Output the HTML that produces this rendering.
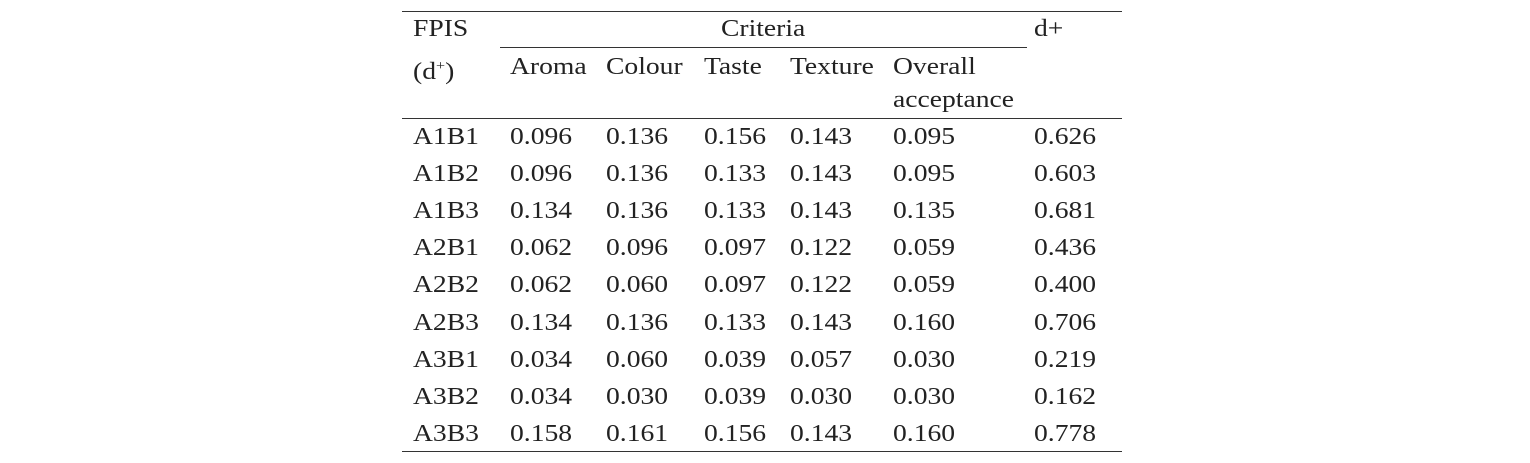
<!DOCTYPE html>
<html><head><meta charset="utf-8"><style>
body{margin:0;width:1530px;height:463px;background:#fff;position:relative;overflow:hidden;font-family:"Liberation Serif",serif;color:#222}
.t{position:absolute;font-size:24px;line-height:24px;white-space:nowrap;transform:scaleX(1.15);transform-origin:left center}
.l{position:absolute;height:1px;background:#333}
</style></head><body>
<div class="l" style="left:402px;width:720px;top:11px"></div>
<div class="l" style="left:500px;width:527px;top:47px"></div>
<div class="l" style="left:402px;width:720px;top:118px"></div>
<div class="l" style="left:402px;width:720px;top:451px"></div>
<div class="t" style="left:413px;top:17px">FPIS</div>
<div class="t" style="left:413px;top:55px">(d<sup style="font-size:14px">+</sup>)</div>
<div class="t" style="left:721px;top:17px">Criteria</div>
<div class="t" style="left:1034px;top:17px">d+</div>
<div class="t" style="left:510px;top:55px">Aroma</div>
<div class="t" style="left:606px;top:55px">Colour</div>
<div class="t" style="left:704px;top:55px">Taste</div>
<div class="t" style="left:790px;top:55px">Texture</div>
<div class="t" style="left:893px;top:55px">Overall</div>
<div class="t" style="left:893px;top:88px">acceptance</div>
<script>
const rows=["A1B1","A1B2","A1B3","A2B1","A2B2","A2B3","A3B1","A3B2","A3B3"];
const aroma=["0.096","0.096","0.134","0.062","0.062","0.134","0.034","0.034","0.158"];
const colour=["0.136","0.136","0.136","0.096","0.060","0.136","0.060","0.030","0.161"];
const taste=["0.156","0.133","0.133","0.097","0.097","0.133","0.039","0.039","0.156"];
const texture=["0.143","0.143","0.143","0.122","0.122","0.143","0.057","0.030","0.143"];
const overall=["0.095","0.095","0.135","0.059","0.059","0.160","0.030","0.030","0.160"];
const dplus=["0.626","0.603","0.681","0.436","0.400","0.706","0.219","0.162","0.778"];
const cols=[[rows,413,'row-label'],[aroma,510,'aroma-value'],[colour,606,'colour-value'],[taste,704,'taste-value'],[texture,790,'texture-value'],[overall,893,'overall-value'],[dplus,1034,'d-plus-value']];
cols.forEach(([arr,x,nm])=>{arr.forEach((v,i)=>{
const el=document.createElement('div');
el.className='t';
el.style.left=x+'px';
el.style.top=(125+i*37.1)+'px';
el.textContent=v;


document.body.appendChild(el);});});
</script>
</body></html>
